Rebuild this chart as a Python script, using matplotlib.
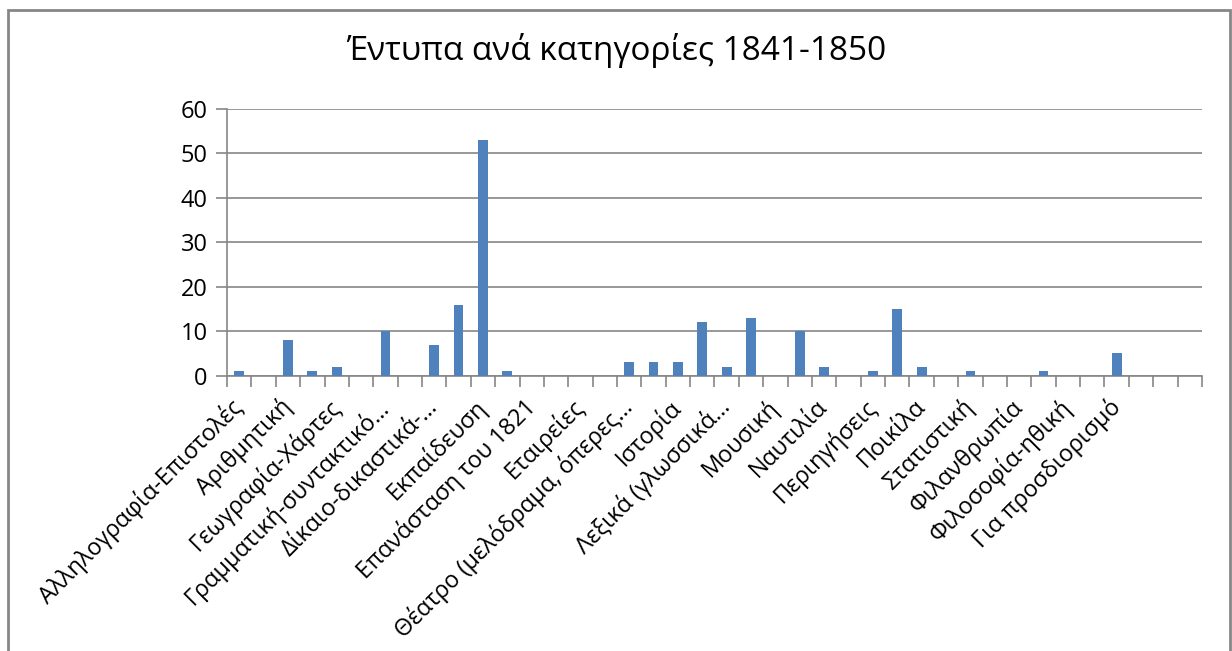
import numpy as np
import matplotlib
matplotlib.use('Agg')
import matplotlib.pyplot as plt
from matplotlib.patches import Rectangle

plt.rcParams['font.family'] = ['Open Sans', 'DejaVu Sans']

# 40 categories, Excel shows only every other label
labels = ['Αλληλογραφία-Επιστολές', 'Αριθμητική', 'Γεωγραφία-Χάρτες',
          'Γραμματική-συντακτικό…', 'Δίκαιο-δικαστικά-…', 'Εκπαίδευση',
          'Επανάσταση του 1821', 'Εταιρείες', 'Θέατρο (μελόδραμα, όπερες…',
          'Ιστορία', 'Λεξικά (γλωσσικά…', 'Μουσική', 'Ναυτιλία',
          'Περιηγήσεις', 'Ποικίλα', 'Στατιστική', 'Φιλανθρωπία',
          'Φιλοσοφία-ηθική', 'Για προσδιορισμό']
values = [1, 0, 8, 1, 2, 0, 10, 0, 7, 16,
          53, 1, 0, 0, 0, 0, 3, 3, 3, 12,
          2, 13, 0, 10, 2, 0, 1, 15, 2, 0,
          1, 0, 0, 1, 0, 0, 5, 0, 0, 0]
yticks = [0, 10, 20, 30, 40, 50, 60]
title = 'Έντυπα ανά κατηγορίες 1841-1850'

n = len(values)
x = np.arange(n)

fig = plt.figure(figsize=(12.32, 6.51), dpi=100)
ax = fig.add_axes([0.1843, 0.4229, 0.7913, 0.4097])

ax.bar(x, values, width=0.4, color='#4F81BD', zorder=3)

ax.set_xlim(-0.5, n - 0.5)
ax.set_ylim(0, 60)
ax.set_yticks(yticks)
ax.yaxis.grid(True, color='#868686', linewidth=1.2, zorder=0)
ax.tick_params(axis='y', length=8, width=1.2, color='#868686', labelsize=17, pad=6)

# tick marks between categories, labels on every other category
ax.set_xticks(np.arange(-0.5, n, 1.0))
ax.set_xticklabels([])
ax.tick_params(axis='x', which='major', length=8, width=1.2, color='#868686')
ax.set_xticks(x[::2][:len(labels)], labels, minor=True)
ax.tick_params(axis='x', which='minor', length=0, pad=20, labelsize=16.8)
for t in ax.get_xticklabels(minor=True):
    t.set_rotation(45)
    t.set_ha('right')
    t.set_va('center')
    t.set_rotation_mode('anchor')

for s in ['top', 'right']:
    ax.spines[s].set_visible(False)
for s in ['left', 'bottom']:
    ax.spines[s].set_color('#868686')
    ax.spines[s].set_linewidth(1.2)

fig.text(0.5, 0.922, title, ha='center', va='center', fontsize=24)

# chart area border
fig.patches.append(Rectangle((8 / 1232, -0.05), 1222 / 1232, 1.05 - 10 / 651,
                             transform=fig.transFigure, fill=False,
                             edgecolor='#868686', linewidth=2))

fig.savefig('out.png', dpi=100)
